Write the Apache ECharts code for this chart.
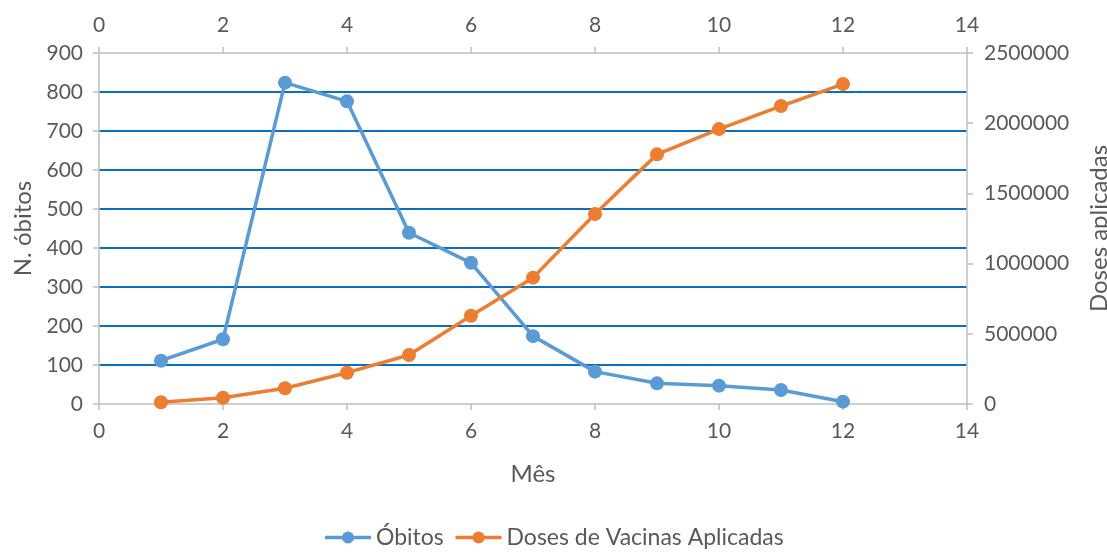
<!DOCTYPE html>
<html>
<head>
<meta charset="utf-8">
<script src="https://cdn.jsdelivr.net/npm/echarts@6/dist/echarts.min.js"></script>
<style>
  html, body { margin: 0; padding: 0; background: #fff; }
  #chart { width: 1107px; height: 552px; }
</style>
</head>
<body>
<div id="chart"></div>
<script>
const meses = [1, 2, 3, 4, 5, 6, 7, 8, 9, 10, 11, 12];
const obitos = [111, 166, 824, 776, 439, 362, 174, 83, 53, 47, 36, 6];
const doses = [12000, 45000, 112000, 223000, 349000, 629000, 900000, 1353000, 1778000, 1958000, 2122000, 2279000];

const fontFam = 'Lato, "Open Sans", sans-serif';
const textColor = '#595959';
const axisGray = '#bfbfbf';

const xAxisBase = {
    type: 'value',
    min: 0,
    max: 14,
    interval: 2,
    axisLine: { show: true, onZero: false, lineStyle: { color: axisGray, width: 1.5 } },
    axisTick: { show: true, length: 6, lineStyle: { color: axisGray, width: 1.5 } },
    axisLabel: { color: textColor, fontSize: 21, fontFamily: fontFam, margin: 17 },
    splitLine: { show: false }
};

const myChart = echarts.init(document.getElementById('chart'));
const option = {
    animation: false,
    grid: { left: 99, right: 140, top: 53, bottom: 148, outerBoundsMode: 'none' },
    legend: {
        bottom: -2,
        left: 'center',
        itemWidth: 46,
        itemHeight: 15,
        itemGap: 10,
        lineStyle: { width: 3.5 },
        textStyle: { color: textColor, fontSize: 23, fontFamily: fontFam },
        data: ['Óbitos', 'Doses de Vacinas Aplicadas']
    },
    xAxis: [
        Object.assign({}, xAxisBase, {
            position: 'bottom',
            name: 'Mês',
            nameLocation: 'middle',
            nameGap: 58,
            nameTextStyle: { color: textColor, fontSize: 24, fontFamily: fontFam }
        }),
        Object.assign({}, xAxisBase, { position: 'top' })
    ],
    yAxis: [
        {
            type: 'value',
            min: 0,
            max: 900,
            interval: 100,
            position: 'left',
            name: 'N. óbitos',
            nameLocation: 'middle',
            nameRotate: 90,
            nameGap: 55,
            nameTextStyle: { color: textColor, fontSize: 24, fontFamily: fontFam },
            axisLine: { show: true, onZero: false, lineStyle: { color: axisGray, width: 1.5 } },
            axisTick: { show: true, length: 6, lineStyle: { color: axisGray, width: 1.5 } },
            axisLabel: { color: textColor, fontSize: 21, fontFamily: fontFam, margin: 16 },
            splitLine: {
                show: true,
                showMinLine: false,
                showMaxLine: false,
                lineStyle: { color: '#0870bf', width: 1.8 }
            }
        },
        {
            type: 'value',
            min: 0,
            max: 2500000,
            interval: 500000,
            position: 'right',
            name: 'Doses aplicadas',
            nameLocation: 'middle',
            nameRotate: 90,
            nameGap: 120,
            nameTextStyle: { color: textColor, fontSize: 24, fontFamily: fontFam },
            axisLine: { show: true, onZero: false, lineStyle: { color: axisGray, width: 1.5 } },
            axisTick: { show: true, length: 6, lineStyle: { color: axisGray, width: 1.5 } },
            axisLabel: {
                color: textColor, fontSize: 21, fontFamily: fontFam, margin: 17,
                formatter: v => String(v)
            },
            splitLine: { show: false }
        }
    ],
    series: [
        {
            name: 'Óbitos',
            type: 'line',
            xAxisIndex: 0,
            yAxisIndex: 0,
            symbol: 'circle',
            symbolSize: 14,
            lineStyle: { color: '#5b9bd5', width: 3.5 },
            itemStyle: { color: '#5b9bd5' },
            data: meses.map((m, i) => [m, obitos[i]])
        },
        {
            name: 'Doses de Vacinas Aplicadas',
            type: 'line',
            xAxisIndex: 0,
            yAxisIndex: 1,
            symbol: 'circle',
            symbolSize: 14,
            lineStyle: { color: '#ed7d31', width: 3.5 },
            itemStyle: { color: '#ed7d31' },
            data: meses.map((m, i) => [m, doses[i]])
        }
    ]
};
myChart.setOption(option);
</script>
</body>
</html>
